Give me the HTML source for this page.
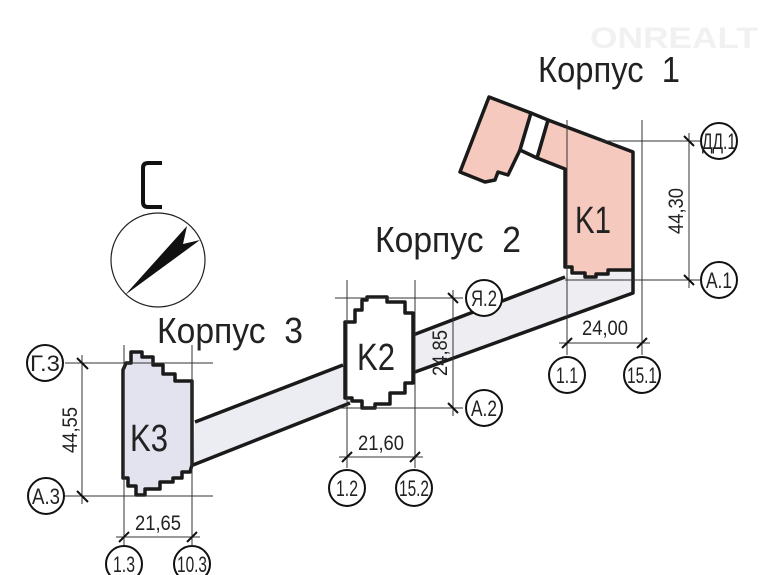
<!DOCTYPE html>
<html><head><meta charset="utf-8"><style>
html,body{margin:0;padding:0;background:#fff}
svg{display:block}
text{font-family:"Liberation Sans",sans-serif;fill:#222}
</style></head><body>
<svg width="781" height="575" viewBox="0 0 781 575" xmlns="http://www.w3.org/2000/svg">
<rect width="781" height="575" fill="#fff"/>
<text x="590" y="48" font-size="30" font-weight="bold" style="fill:#f1f1f1" textLength="168" lengthAdjust="spacingAndGlyphs">ONREALT</text>

<!-- corridors -->
<polygon points="565,277 633,270 633,293 415,372 413,335" fill="#ededf2"/>
<polygon points="343,365 195,422 193,465 350,403" fill="#ececf3"/>
<g stroke="#1a1a1a" stroke-width="3.5" fill="none" stroke-linejoin="round">
<polyline points="565,277 413,335"/>
<polyline points="633,270 633,293 415,372"/>
<polyline points="343,365 195,422"/>
<polyline points="350,403 193,465"/>
</g>

<!-- K1 -->
<g stroke="#1a1a1a" stroke-width="3.5" fill="#f5c9bd" stroke-linejoin="round">
<polygon points="489,97 531,113 520,150 508,175 498,172 495,180 485,182 460,172"/>
<polygon points="548,120 633,152 633,270 608,270 608,274 596,274 596,277 585,277 585,273 572,273 572,267 565,267 565,169 537,158"/>
<polygon points="531,113 548,120 537,158 520,150" fill="#fff"/>
</g>

<!-- K2 -->
<polygon points="367,297 387,297 387,302 405,302 405,313 413,313 413,383 405,383 405,393 390,393 390,404 375,404 375,408 362,408 362,401 352,401 352,398 345,398 345,322 355,322 355,310 362,310 362,300 367,300" fill="#fff" stroke="#1a1a1a" stroke-width="3.5" stroke-linejoin="round"/>
<!-- K3 -->
<polygon points="131,352 142,352 142,357 153,357 153,365 163,365 163,374 175,374 175,381 192,381 192,465 190,472 182,472 182,478 173,478 173,482 160,482 160,489 145,489 145,495 136,495 136,486 128,486 128,478 123,478 123,370 126,363 131,363" fill="#e3e3f0" stroke="#1a1a1a" stroke-width="3.5" stroke-linejoin="round"/>

<!-- dimension lines -->
<g stroke="#333" stroke-width="1" fill="none">
<line x1="65" y1="363" x2="213" y2="363"/><line x1="65" y1="496" x2="213" y2="496"/>
<line x1="82" y1="355" x2="82" y2="504"/>
<line x1="124" y1="345" x2="124" y2="545"/><line x1="192" y1="345" x2="192" y2="545"/>
<line x1="116" y1="537" x2="200" y2="537"/>
<line x1="335" y1="298" x2="463" y2="298"/><line x1="335" y1="408" x2="463" y2="408"/>
<line x1="453" y1="290" x2="453" y2="416"/>
<line x1="347" y1="280" x2="347" y2="468"/><line x1="415" y1="280" x2="415" y2="468"/>
<line x1="339" y1="457" x2="423" y2="457"/>
<line x1="600" y1="141" x2="700" y2="141"/><line x1="565" y1="280" x2="700" y2="280"/>
<line x1="689" y1="133" x2="689" y2="288"/>
<line x1="567" y1="120" x2="567" y2="355"/><line x1="642" y1="120" x2="642" y2="355"/>
<line x1="559" y1="343" x2="650" y2="343"/>
</g>
<g stroke="#111" stroke-width="2">
<line x1="77" y1="358" x2="88" y2="369"/><line x1="77" y1="491" x2="88" y2="502"/>
<line x1="119" y1="542" x2="129" y2="532"/><line x1="187" y1="542" x2="197" y2="532"/>
<line x1="448" y1="293" x2="458" y2="303"/><line x1="448" y1="403" x2="458" y2="413"/>
<line x1="342" y1="462" x2="352" y2="452"/><line x1="410" y1="462" x2="420" y2="452"/>
<line x1="684" y1="136" x2="694" y2="146"/><line x1="684" y1="275" x2="694" y2="285"/>
<line x1="562" y1="348" x2="572" y2="338"/><line x1="637" y1="348" x2="647" y2="338"/>
</g>

<!-- circles -->
<g stroke="#111" stroke-width="2" fill="#fff">
<circle cx="45" cy="363" r="18"/><circle cx="46" cy="496" r="18"/>
<circle cx="124" cy="564" r="18"/><circle cx="192" cy="564" r="18"/>
<circle cx="484" cy="298" r="18"/><circle cx="484" cy="408" r="18"/>
<circle cx="347" cy="488" r="18"/><circle cx="414" cy="488" r="18"/>
<circle cx="719" cy="141" r="18"/><circle cx="719" cy="280" r="18"/>
<circle cx="567" cy="375" r="18"/><circle cx="642" cy="375" r="18"/>
</g>
<g font-size="22" text-anchor="middle">
<text x="45" y="371" textLength="30" lengthAdjust="spacingAndGlyphs">Г.3</text>
<text x="46" y="504" textLength="28" lengthAdjust="spacingAndGlyphs">A.3</text>
<text x="124" y="572" textLength="22" lengthAdjust="spacingAndGlyphs">1.3</text>
<text x="192" y="572" textLength="30" lengthAdjust="spacingAndGlyphs">10.3</text>
<text x="484" y="306" textLength="26" lengthAdjust="spacingAndGlyphs">Я.2</text>
<text x="484" y="416" textLength="26" lengthAdjust="spacingAndGlyphs">A.2</text>
<text x="347" y="496" textLength="22" lengthAdjust="spacingAndGlyphs">1.2</text>
<text x="414" y="496" textLength="30" lengthAdjust="spacingAndGlyphs">15.2</text>
<text x="719" y="149" textLength="34" lengthAdjust="spacingAndGlyphs">ДД.1</text>
<text x="719" y="288" textLength="26" lengthAdjust="spacingAndGlyphs">A.1</text>
<text x="567" y="383" textLength="22" lengthAdjust="spacingAndGlyphs">1.1</text>
<text x="642" y="383" textLength="30" lengthAdjust="spacingAndGlyphs">15.1</text>
</g>
<g font-size="21" text-anchor="middle">
<text x="158" y="530" textLength="46" lengthAdjust="spacingAndGlyphs">21,65</text>
<text x="381" y="450" textLength="46" lengthAdjust="spacingAndGlyphs">21,60</text>
<text x="605" y="335" textLength="46" lengthAdjust="spacingAndGlyphs">24,00</text>
<text transform="translate(77,430) rotate(-90)" textLength="46" lengthAdjust="spacingAndGlyphs">44,55</text>
<text transform="translate(447,353) rotate(-90)" textLength="46" lengthAdjust="spacingAndGlyphs">24,85</text>
<text transform="translate(683,211) rotate(-90)" textLength="46" lengthAdjust="spacingAndGlyphs">44,30</text>
</g>

<g font-size="38" text-anchor="middle">
<text x="149" y="451" textLength="38" lengthAdjust="spacingAndGlyphs">K3</text>
<text x="376" y="370" textLength="38" lengthAdjust="spacingAndGlyphs">K2</text>
<text x="593" y="233" textLength="36" lengthAdjust="spacingAndGlyphs">K1</text>
</g>
<g font-size="36">
<text x="538" y="82" textLength="142" lengthAdjust="spacingAndGlyphs">Корпус&#160;&#160;1</text>
<text x="375" y="252" textLength="146" lengthAdjust="spacingAndGlyphs">Корпус&#160;&#160;2</text>
<text x="157" y="343" textLength="146" lengthAdjust="spacingAndGlyphs">Корпус&#160;&#160;3</text>
</g>

<!-- compass -->
<path d="M162,163 H148 Q143,163 143,168 V202 Q143,207 148,207 H162" fill="none" stroke="#111" stroke-width="4"/>
<circle cx="158" cy="260" r="47" fill="none" stroke="#222" stroke-width="1.2"/>
<polygon points="125,295 187,226 183,244 200,240" fill="#111"/>
</svg>
</body></html>
